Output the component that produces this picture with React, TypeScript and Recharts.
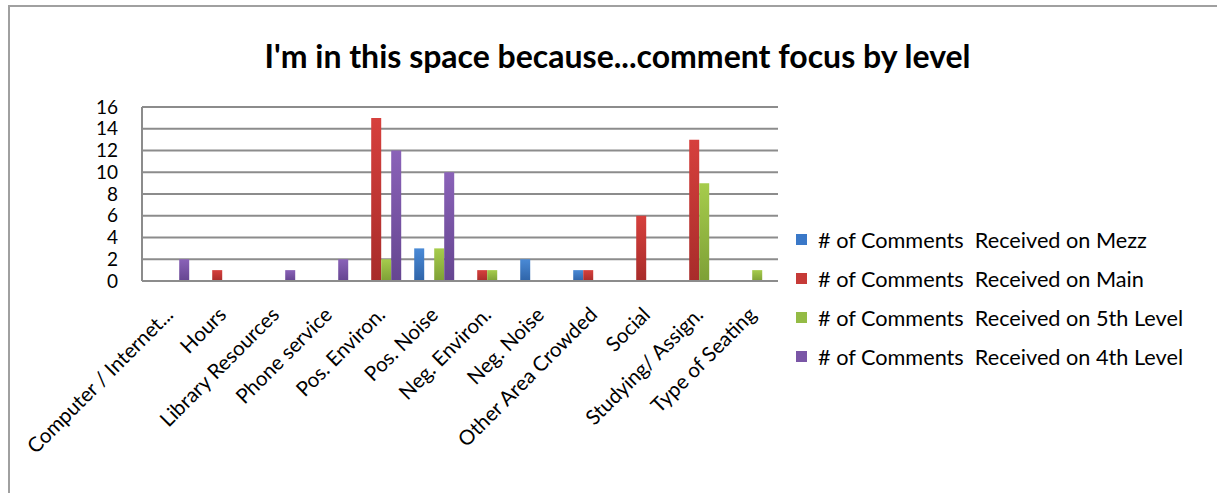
import React from 'react';
import { BarChart, Bar, XAxis, YAxis, CartesianGrid } from 'recharts';

const categories = [
  'Computer / Internet...',
  'Hours',
  'Library Resources',
  'Phone service',
  'Pos. Environ.',
  'Pos. Noise',
  'Neg. Environ.',
  'Neg. Noise',
  'Other Area Crowded',
  'Social',
  'Studying/ Assign.',
  'Type of Seating',
];

const mezz = [0, 0, 0, 0, 0, 3, 0, 2, 1, 0, 0, 0];
const main = [0, 1, 0, 0, 15, 0, 1, 0, 1, 6, 13, 0];
const fifth = [0, 0, 0, 0, 2, 3, 1, 0, 0, 0, 9, 1];
const fourth = [2, 0, 1, 2, 12, 10, 0, 0, 0, 0, 0, 0];

const yTicks = [0, 2, 4, 6, 8, 10, 12, 14, 16];

const series = [
  { key: 'mezz', name: '# of Comments  Received on Mezz', top: '#4a8ad6', bottom: '#2f64a8', swatch: '#3a78c8' },
  { key: 'main', name: '# of Comments  Received on Main', top: '#d6403d', bottom: '#a82c2a', swatch: '#c63a37' },
  { key: 'fifth', name: '# of Comments  Received on 5th Level', top: '#a6cc4c', bottom: '#7ea036', swatch: '#94bb45' },
  { key: 'fourth', name: '# of Comments  Received on 4th Level', top: '#8a62b8', bottom: '#654590', swatch: '#7a56a6' },
];

const data = categories.map((c, i) => ({
  name: c,
  mezz: mezz[i],
  main: main[i],
  fifth: fifth[i],
  fourth: fourth[i],
}));

const FONT = 'Lato, "Noto Sans", sans-serif';

const CategoryTick = (props: any) => {
  const { x, y, payload } = props;
  const ax = x + 6;
  const ay = y + 27;
  return (
    <text
      x={ax}
      y={ay}
      textAnchor="end"
      fontSize={20.5}
      fill="#000"
      fontFamily={FONT}
      transform={`rotate(-45, ${ax}, ${ay})`}
    >
      {payload.value}
    </text>
  );
};

export default function App() {
  return (
    <div style={{ position: 'absolute', left: 0, top: 0, width: 1217, height: 493, background: '#fff' }}>
      <div
        style={{
          position: 'absolute',
          left: 8,
          top: 5,
          width: 1209,
          height: 488,
          borderTop: '2px solid #a0a0a0',
          borderLeft: '2px solid #a0a0a0',
          boxSizing: 'border-box',
        }}
      />
      <div
        style={{
          position: 'absolute',
          left: 0,
          top: 36,
          width: 1235,
          textAlign: 'center',
          fontFamily: FONT,
          fontWeight: 'bold',
          fontSize: 32,
          color: '#000',
        }}
      >
        I'm in this space because...comment focus by level
      </div>
      <div style={{ position: 'absolute', left: 0, top: 0 }}>
        <BarChart
          width={1217}
          height={493}
          data={data}
          margin={{ top: 107, right: 439, bottom: 12, left: 0 }}
          barCategoryGap="13.6%"
          barGap={0}
        >
          <defs>
            {series.map((s) => (
              <linearGradient key={s.key} id={`g-${s.key}`} x1="0" y1="0" x2="0" y2="1">
                <stop offset="0%" stopColor={s.top} />
                <stop offset="100%" stopColor={s.bottom} />
              </linearGradient>
            ))}
          </defs>
          <CartesianGrid vertical={false} stroke="#8c8c8c" strokeWidth={2} />
          <XAxis
            dataKey="name"
            interval={0}
            height={200}
            tickLine={false}
            axisLine={{ stroke: '#8c8c8c', strokeWidth: 2 }}
            tick={<CategoryTick />}
          />
          <YAxis
            width={142}
            domain={[0, 16]}
            ticks={yTicks}
            interval={0}
            tickLine={false}
            tickSize={0}
            tickMargin={24}
            axisLine={{ stroke: '#8c8c8c', strokeWidth: 2 }}
            tick={{ fontSize: 19, fill: '#000', fontFamily: FONT }}
          />
          {series.map((s) => (
            <Bar
              key={s.key}
              dataKey={s.key}
              name={s.name}
              fill={`url(#g-${s.key})`}
              isAnimationActive={false}
            />
          ))}
        </BarChart>
      </div>
      <div
        style={{
          position: 'absolute',
          left: 796,
          top: 220,
          fontFamily: FONT,
          fontSize: 21.7,
          color: '#000',
        }}
      >
        {series.map((s) => (
          <div key={s.key} style={{ display: 'flex', alignItems: 'center', height: 39, whiteSpace: 'pre' }}>
            <span
              style={{ display: 'inline-block', width: 11, height: 11, background: s.swatch, marginRight: 11 }}
            />
            {s.name}
          </div>
        ))}
      </div>
    </div>
  );
}
